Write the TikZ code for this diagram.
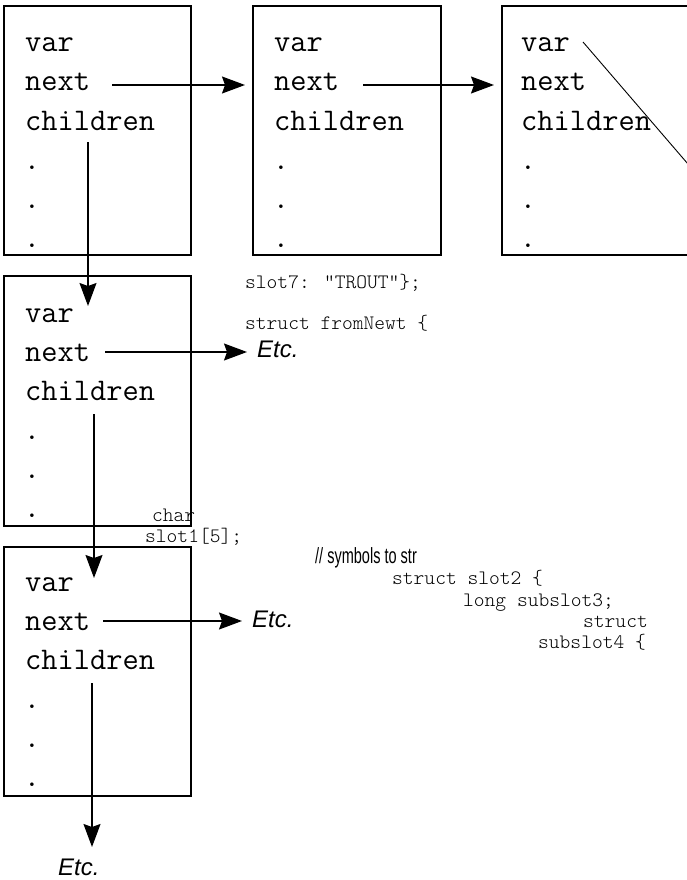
\documentclass[tikz,border=0pt]{standalone}
\usepackage{fontspec}
\usepackage{graphicx}
\newfontfamily\etcfont{Liberation Sans}
\usetikzlibrary{arrows.meta}
\tikzset{
  boxfr/.style={draw, line width=1.6pt, anchor=north west, inner sep=0pt, outer sep=0pt},
  fieldtxt/.style={anchor=base west, inner sep=0pt, font=\ttfamily\fontsize{31.5}{35}\selectfont},
  dottxt/.style={anchor=base, inner sep=0pt, font=\ttfamily\fontsize{31.5}{35}\selectfont},
  codetxt/.style={anchor=base west, inner sep=0pt, font=\ttfamily\fontseries{l}\fontsize{20.5}{24}\selectfont},
  etctxt/.style={anchor=base west, inner sep=0pt, font=\etcfont\itshape\fontsize{24}{28}\selectfont},
  cmttxt/.style={anchor=base west, inner sep=0pt, font=\etcfont\fontsize{22}{26}\selectfont},
  ptr/.style={line width=1.4pt, -{Stealth[length=23pt,width=17pt,inset=3pt]}},
  strike/.style={line width=0.9pt}
}
\begin{document}
\begin{tikzpicture}[x=1pt,y=-1pt]
\useasboundingbox (0,0) rectangle (687,880);
\clip (0,0) rectangle (687,880);
% boxes
\node[boxfr, minimum width=187pt, minimum height=249pt] (b1) at (4,6) {};
\node[boxfr, minimum width=188pt, minimum height=249pt] (b2) at (253,6) {};
\node[boxfr, minimum width=250pt, minimum height=249pt] (b3) at (502,6) {};
\node[boxfr, minimum width=187pt, minimum height=250pt] (b4) at (4,276) {};
\node[boxfr, minimum width=187pt, minimum height=249pt] (b5) at (4,547) {};
% box 1
\node[fieldtxt] (b1var) at (25,52) {var};
\node[fieldtxt] (b1next) at (25,91) {next};
\node[fieldtxt] (b1ch) at (25,130) {children};
\node[dottxt] (b1d1) at (32,169) {.};
\node[dottxt] (b1d2) at (32,208) {.};
\node[dottxt] (b1d3) at (32,247) {.};
% box 2
\node[fieldtxt] (b2var) at (274,52) {var};
\node[fieldtxt] (b2next) at (274,91) {next};
\node[fieldtxt] (b2ch) at (274,130) {children};
\node[dottxt] (b2d1) at (281,169) {.};
\node[dottxt] (b2d2) at (281,208) {.};
\node[dottxt] (b2d3) at (281,247) {.};
% box 3
\node[fieldtxt] (b3var) at (521,52) {var};
\node[fieldtxt] (b3next) at (521,91) {next};
\node[fieldtxt] (b3ch) at (521,130) {children};
\node[dottxt] (b3d1) at (528,169) {.};
\node[dottxt] (b3d2) at (528,208) {.};
\node[dottxt] (b3d3) at (528,247) {.};
% box 4
\node[fieldtxt] (b4var) at (25,322) {var};
\node[fieldtxt] (b4next) at (25,361) {next};
\node[fieldtxt] (b4ch) at (25,400) {children};
\node[dottxt] (b4d1) at (32,439) {.};
\node[dottxt] (b4d2) at (32,478) {.};
\node[dottxt] (b4d3) at (32,517) {.};
% box 5
\node[fieldtxt] (b5var) at (25,591) {var};
\node[fieldtxt] (b5next) at (25,630) {next};
\node[fieldtxt] (b5ch) at (25,669) {children};
\node[dottxt] (b5d1) at (32,708) {.};
\node[dottxt] (b5d2) at (32,747) {.};
\node[dottxt] (b5d3) at (32,786) {.};
% Etc. labels
\node[etctxt] (etc4) at (257,357) {Etc.};
\node[etctxt] (etc5) at (252,627) {Etc.};
\node[etctxt] (etc6) at (58,875) {Etc.};
% code fragments
\node[codetxt] (c1) at (245,288) {slot7: "TROUT"\};};
\node[codetxt] (c2) at (245,329) {struct fromNewt \{};
\node[codetxt] (c3) at (152,521) {char};
\node[codetxt] (c4) at (145,542) {slot1[5];};
\node[cmttxt] (c5) at (315,563) {\scalebox{0.66}[1]{// symbols to str}};
\node[codetxt] (c6) at (392,584) {struct slot2 \{};
\node[codetxt] (c7) at (463,606) {long subslot3;};
\node[codetxt] (c8) at (583,627) {struct};
\node[codetxt] (c9) at (538,648) {subslot4 \{};
% pointer start / end points
\coordinate (n1s) at (112,85);
\coordinate (n1e) at (245,85);
\coordinate (n2s) at (363,85);
\coordinate (n2e) at (494,85);
\coordinate (n4s) at (105,352);
\coordinate (n4e) at (247,352);
\coordinate (n5s) at (103,621);
\coordinate (n5e) at (242,621);
\coordinate (c1s) at (88,142);
\coordinate (c1e) at (88,306);
\coordinate (c4s) at (94,414);
\coordinate (c4e) at (94,578);
\coordinate (c5s) at (92,683);
\coordinate (c5e) at (92,847);
\coordinate (xs) at (583,42);
\coordinate (xe) at (700,178);
\draw[ptr] (n1s) -- (n1e);
\draw[ptr] (n2s) -- (n2e);
\draw[ptr] (n4s) -- (n4e);
\draw[ptr] (n5s) -- (n5e);
\draw[ptr] (c1s) -- (c1e);
\draw[ptr] (c4s) -- (c4e);
\draw[ptr] (c5s) -- (c5e);
\draw[strike] (xs) -- (xe);
\end{tikzpicture}
\end{document}
